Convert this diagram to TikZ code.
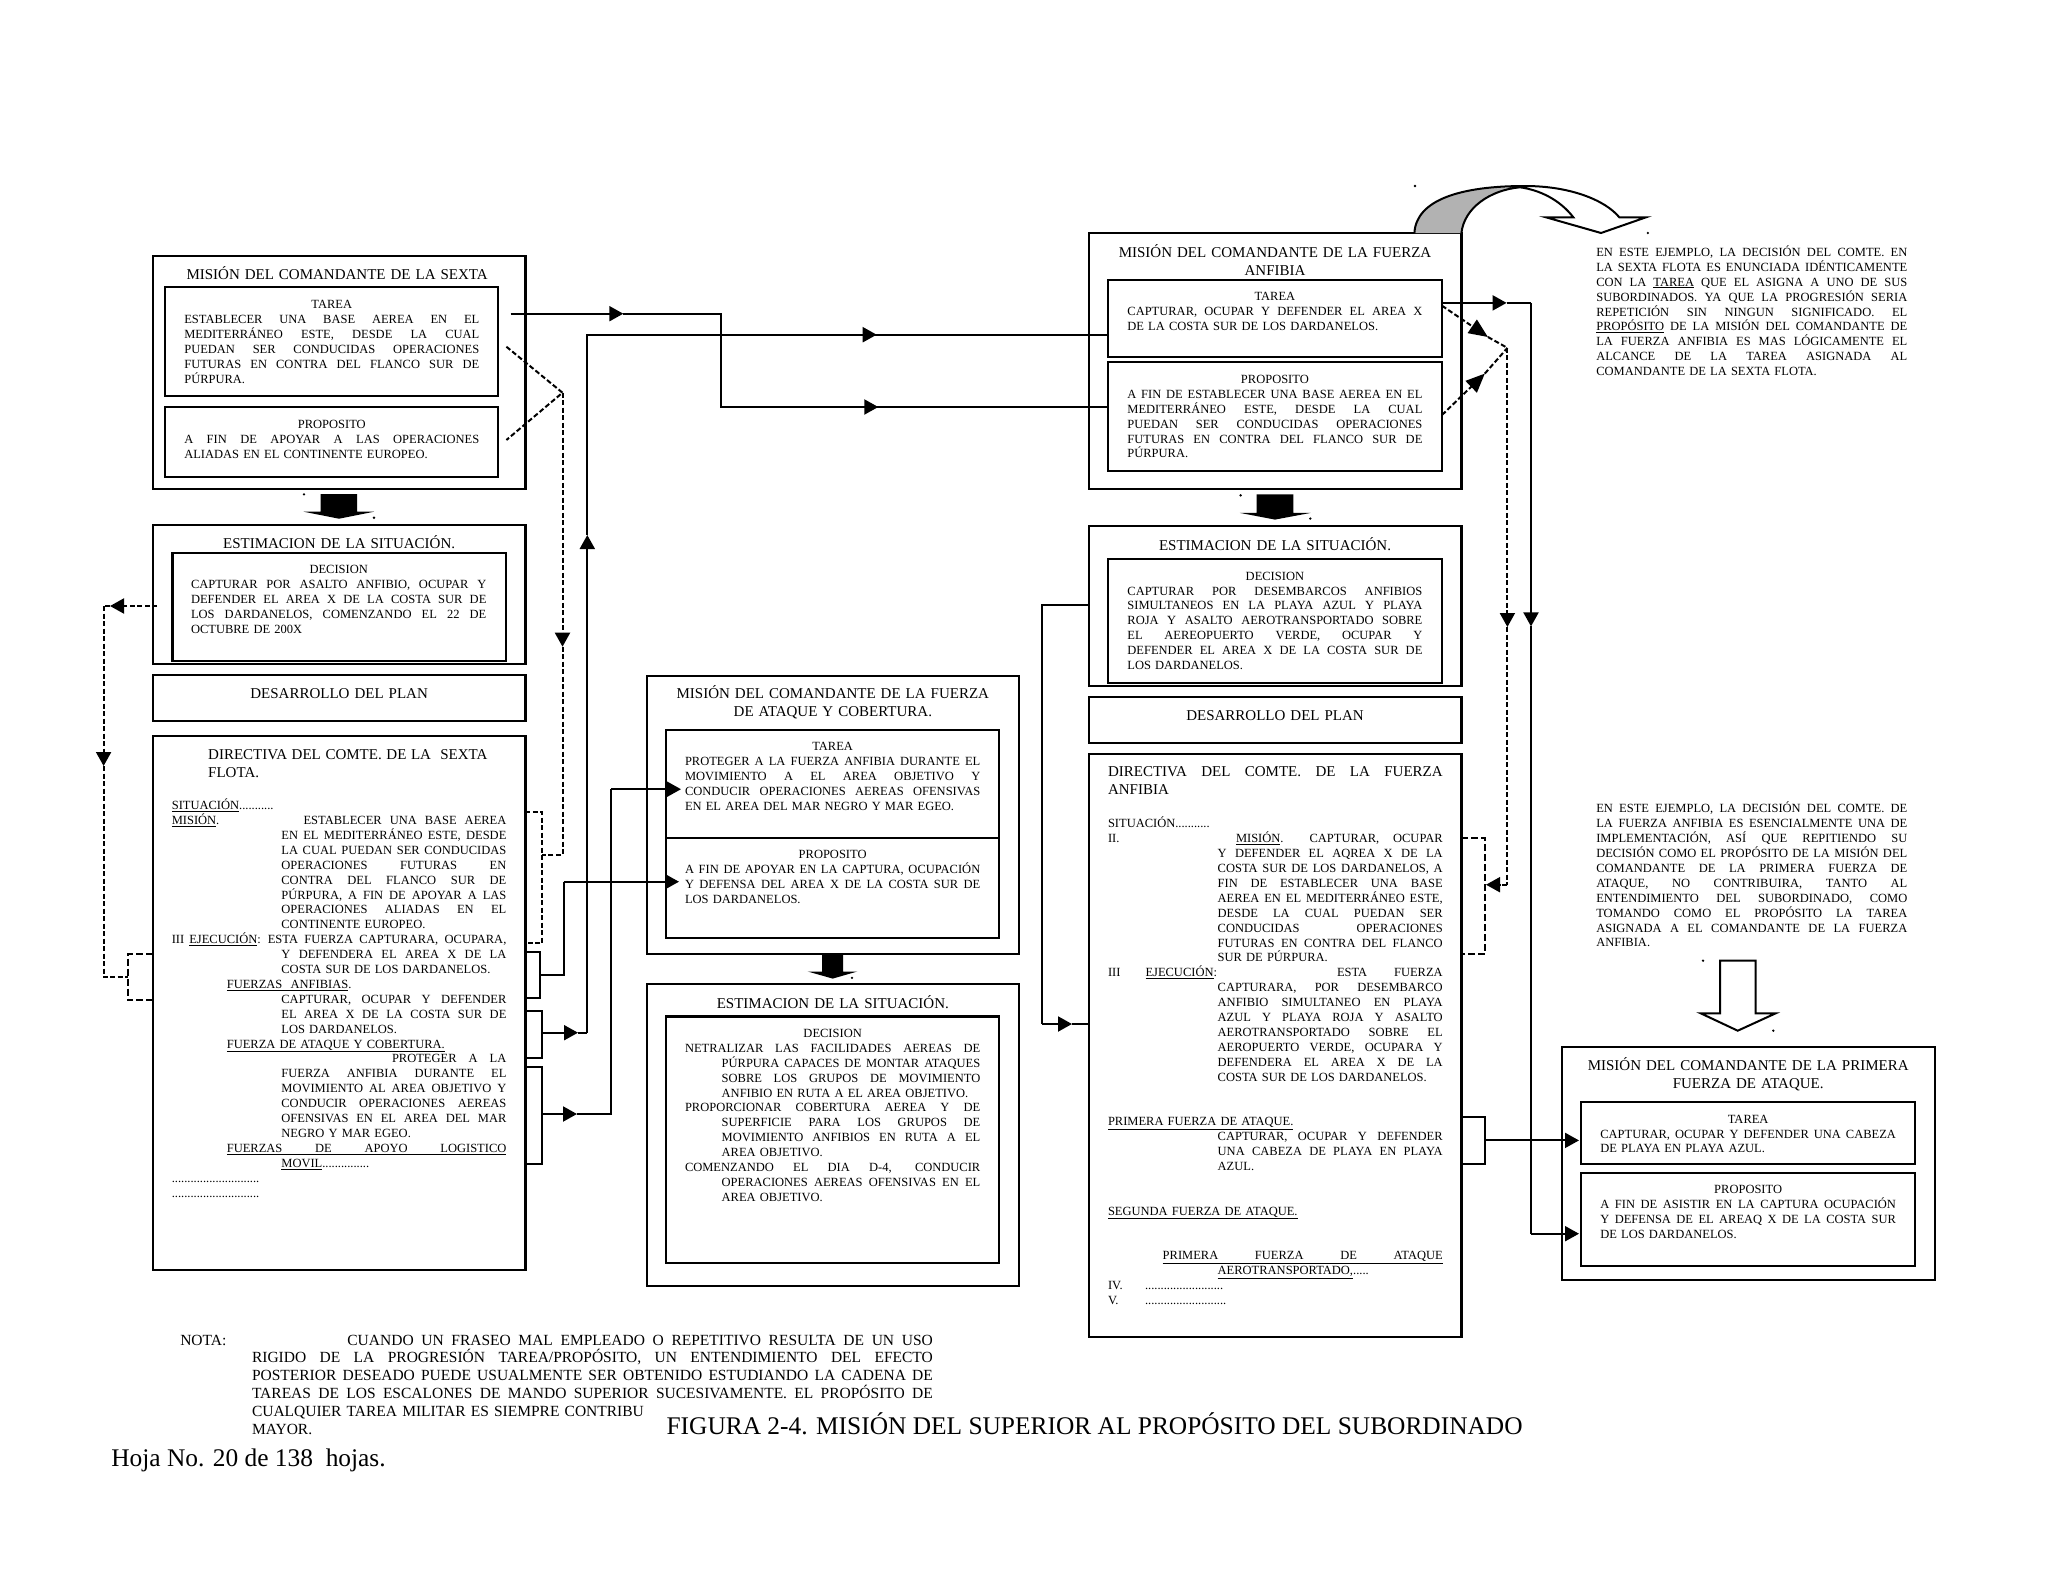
\documentclass[tikz,border=0pt]{standalone}
\usepackage{fontspec}
\setmainfont{Liberation Serif}
\usetikzlibrary{arrows.meta}
\newdimen\strh \strh=12pt
\newcommand\bodyf{\fontsize{12.5}{14.9}\selectfont\strh=12pt\lineskiplimit=-100pt\relax}
\newcommand\titlef{\fontsize{15}{18}\selectfont\strh=14.5pt\lineskiplimit=-100pt\relax}
\newcommand\notaf{\fontsize{15.5}{17.8}\selectfont\strh=12pt\lineskiplimit=-100pt\relax}
\newcommand\strutx{\rule{0pt}{\strh}}
\newcommand\jset{\spaceskip=.25em plus 1fil minus .08em\relax}
\newcommand\jline[2][0pt]{\noindent\hbox to\hsize{\hskip#1\relax\strutx\jset #2}\par}
\newcommand\pline[2][0pt]{\noindent\hbox to\hsize{\hskip#1\relax\strutx #2\hfil}\par}
\newcommand\mline[1]{\noindent\hbox to\hsize{\strutx\hfil #1\hfil}\par}
\newcommand\jlab[3]{\noindent\hbox to\hsize{\rlap{#2}\hskip#1\relax\strutx\jset #3}\par}
\newcommand\plab[3]{\noindent\hbox to\hsize{\rlap{#2}\hskip#1\relax\strutx #3\hfil}\par}
\newcommand\uj[2]{\underline{\hbox to#1{\jset #2}}}
\newcommand\bx[5]{\node[boxs,minimum width={(#4-#2)*1pt},minimum height={(#5-#3)*1pt}] (#1) at (#2,#3) {};}
\newcommand\dotm[1]{\fill #1 circle (1.3pt);}
\tikzset{
  boxs/.style={draw=black,line width=2.2pt,inner sep=0pt,outer sep=0pt,anchor=north west},
  txt/.style={anchor=north west,inner sep=0pt,outer sep=0pt,yshift=7.9pt,font=\bodyf},
  ttl/.style={anchor=north west,inner sep=0pt,outer sep=0pt,yshift=9.4pt,font=\titlef},
  conn/.style={draw=black,line width=2pt,line join=miter},
  dsh/.style={draw=black,line width=2pt,dash pattern=on 5pt off 2.5pt},
  dshb/.style={draw=black,line width=2pt,dash pattern=on 7pt off 3pt},
  tipT/.style={-{Triangle[length=14pt,width=15pt]}},
  tipD/.style={-{Triangle[length=19pt,width=16pt]}},
  block/.style={fill=black,draw=none},
  hollow/.style={draw=black,line width=2pt,fill=white,line join=miter}
}
\begin{document}
\begin{tikzpicture}[x=1pt,y=-1pt]
\useasboundingbox (0,0) rectangle (2048,1582);
% ---------- LEFT COLUMN ----------
\bx{mA}{152.9}{256}{525.4}{489}
\bx{mAt}{165}{287}{498}{396}
\bx{mAp}{165}{407.3}{498}{477.3}
\bx{eA}{152.9}{524.7}{525.4}{664}
\bx{eAd}{172.5}{553}{505.7}{661.3}
\bx{dA}{152.9}{675}{525.4}{721}
\bx{diA}{152.9}{735.8}{525.4}{1270.3}
\node[ttl,text width=372.5pt] (tA1) at (152.9,274.7) {\mline{\hskip-4pt MISIÓN DEL COMANDANTE DE LA SEXTA}};
\node[txt,text width=295pt] (tA2) at (184.3,304.7) {\mline{TAREA}
\jline{ESTABLECER UNA BASE AEREA EN EL}
\jline{MEDITERRÁNEO ESTE, DESDE LA CUAL}
\jline{PUEDAN SER CONDUCIDAS OPERACIONES}
\jline{FUTURAS EN CONTRA DEL FLANCO SUR DE}
\pline{PÚRPURA.}};
\node[txt,text width=295pt] (tA3) at (184.3,424.7) {\mline{PROPOSITO}
\jline{A FIN DE APOYAR A LAS OPERACIONES}
\pline{ALIADAS EN EL CONTINENTE EUROPEO.}};
\node[ttl,text width=372.5pt] (tA4) at (152.9,543.3) {\mline{ESTIMACION DE LA SITUACIÓN.}};
\node[txt,text width=295.4pt] (tA5) at (191,569.7) {\mline{DECISION}
\jline{CAPTURAR POR ASALTO ANFIBIO, OCUPAR Y}
\jline{DEFENDER EL AREA X DE LA COSTA SUR DE}
\jline{LOS DARDANELOS, COMENZANDO EL 22 DE}
\pline{OCTUBRE DE 200X}};
\node[ttl,text width=372.5pt] (tA6) at (152.9,693.8) {\mline{DESARROLLO DEL PLAN}};
\node[ttl,text width=279.3pt] (tA7) at (208.2,754) {\jline{DIRECTIVA DEL COMTE. DE LA\ \ SEXTA}
\pline{FLOTA.}};
\node[txt,text width=334.6pt] (tA8) at (171.8,805.5) {\pline{\underline{SITUACIÓN}...........}
\jlab{131.8pt}{\underline{MISIÓN}.}{ESTABLECER UNA BASE AEREA}
\jline[109.6pt]{EN EL MEDITERRÁNEO ESTE, DESDE}
\jline[109.6pt]{LA CUAL PUEDAN SER CONDUCIDAS}
\jline[109.6pt]{OPERACIONES FUTURAS EN}
\jline[109.6pt]{CONTRA DEL FLANCO SUR DE}
\jline[109.6pt]{PÚRPURA, A FIN DE APOYAR A LAS}
\jline[109.6pt]{OPERACIONES ALIADAS EN EL}
\pline[109.6pt]{CONTINENTE EUROPEO.}
\jlab{96pt}{III\hskip5pt\underline{EJECUCIÓN}:}{ESTA FUERZA CAPTURARA, OCUPARA,}
\jline[109.6pt]{Y DEFENDERA EL AREA X DE LA}
\pline[109.6pt]{COSTA SUR DE LOS DARDANELOS.}
\pline[55pt]{\underline{FUERZAS\ \ ANFIBIAS}.}
\jline[109.6pt]{CAPTURAR, OCUPAR Y DEFENDER}
\jline[109.6pt]{EL AREA X DE LA COSTA SUR DE}
\pline[109.6pt]{LOS DARDANELOS.}
\pline[55pt]{\underline{FUERZA DE ATAQUE Y COBERTURA.}}
\jline[220.2pt]{PROTEGER A LA}
\jline[109.6pt]{FUERZA ANFIBIA DURANTE EL}
\jline[109.6pt]{MOVIMIENTO AL AREA OBJETIVO Y}
\jline[109.6pt]{CONDUCIR OPERACIONES AEREAS}
\jline[109.6pt]{OFENSIVAS EN EL AREA DEL MAR}
\pline[109.6pt]{NEGRO Y MAR EGEO.}
\pline[55pt]{\uj{279.6pt}{FUERZAS DE APOYO LOGISTICO}}
\pline[109.6pt]{\underline{MOVIL}...............}
\pline{............................}
\pline{............................}};
% block arrow left
\fill[block] (320.7,494)--(357,494)--(357,511.7)--(374,511.7)--(339,518.7)--(303.6,511.7)--(320.7,511.7)--cycle;
\dotm{(304,494.3)}\dotm{(374,517.7)}
% ---------- MIDDLE COLUMN ----------
\bx{mC}{646.7}{675.6}{1019}{953.8}
\bx{mCt}{666}{729.9}{999.3}{838}
\bx{mCp}{666}{838}{999.3}{938}
\bx{eC}{646.7}{984}{1019}{1286.3}
\bx{eCd}{666}{1016.5}{999.3}{1263}
\node[ttl,text width=372.3pt] (tC1) at (646.7,693.7) {\mline{MISIÓN DEL COMANDANTE DE LA FUERZA}
\mline{DE ATAQUE Y COBERTURA.}};
\node[txt,text width=295.3pt] (tC2) at (685,746.7) {\mline{TAREA}
\jline{PROTEGER A LA FUERZA ANFIBIA DURANTE EL}
\jline{MOVIMIENTO A EL AREA OBJETIVO Y}
\jline{CONDUCIR OPERACIONES AEREAS OFENSIVAS}
\pline{EN EL AREA DEL MAR NEGRO Y MAR EGEO.}};
\node[txt,text width=295.3pt] (tC3) at (685,854.4) {\mline{PROPOSITO}
\jline{A FIN DE APOYAR EN LA CAPTURA, OCUPACIÓN}
\jline{Y DEFENSA DEL AREA X DE LA COSTA SUR DE}
\pline{LOS DARDANELOS.}};
\node[ttl,text width=372.3pt] (tC4) at (646.7,1003) {\mline{ESTIMACION DE LA SITUACIÓN.}};
\node[txt,text width=295.3pt] (tC5) at (685,1033.3) {\mline{DECISION}
\jline{NETRALIZAR LAS FACILIDADES AEREAS DE}
\jline[36.7pt]{PÚRPURA CAPACES DE MONTAR ATAQUES}
\jline[36.7pt]{SOBRE LOS GRUPOS DE MOVIMIENTO}
\pline[36.7pt]{ANFIBIO EN RUTA A EL AREA OBJETIVO.}
\jline{PROPORCIONAR COBERTURA AEREA Y DE}
\jline[36.7pt]{SUPERFICIE PARA LOS GRUPOS DE}
\jline[36.7pt]{MOVIMIENTO ANFIBIOS EN RUTA A EL}
\pline[36.7pt]{AREA OBJETIVO.}
\jline{COMENZANDO EL DIA D-4, CONDUCIR}
\jline[36.7pt]{OPERACIONES AEREAS OFENSIVAS EN EL}
\pline[36.7pt]{AREA OBJETIVO.}};
\fill[block] (822,954.6)--(843,954.6)--(843,971.5)--(857.3,971.5)--(832.7,978.6)--(807.7,971.5)--(822,971.5)--cycle;
\dotm{(852,977.8)}
% ---------- RIGHT COLUMN ----------
\bx{mB}{1088.7}{233.2}{1461.4}{488.6}
\bx{mBt}{1108.2}{279.6}{1442}{356.8}
\bx{mBp}{1108.2}{362}{1442}{471}
\bx{eB}{1088.7}{526}{1461.4}{686}
\bx{eBd}{1108.2}{558.6}{1442}{683.2}
\bx{dB}{1088.7}{696.8}{1461.4}{743.3}
\bx{diB}{1088.7}{753.9}{1461.4}{1336.7}
\node[ttl,text width=372.7pt] (tB1) at (1088.7,252) {\mline{MISIÓN DEL COMANDANTE DE LA FUERZA}
\mline{ANFIBIA}};
\node[txt,text width=295pt] (tB2) at (1127.4,296.8) {\mline{TAREA}
\jline{CAPTURAR, OCUPAR Y DEFENDER EL AREA X}
\pline{DE LA COSTA SUR DE LOS DARDANELOS.}};
\node[txt,text width=295pt] (tB3) at (1127.4,379.3) {\mline{PROPOSITO}
\jline{A FIN DE ESTABLECER UNA BASE AEREA EN EL}
\jline{MEDITERRÁNEO ESTE, DESDE LA CUAL}
\jline{PUEDAN SER CONDUCIDAS OPERACIONES}
\jline{FUTURAS EN CONTRA DEL FLANCO SUR DE}
\pline{PÚRPURA.}};
\node[ttl,text width=372.7pt] (tB4) at (1088.7,545.4) {\mline{ESTIMACION DE LA SITUACIÓN.}};
\node[txt,text width=295pt] (tB5) at (1127.4,576) {\mline{DECISION}
\jline{CAPTURAR POR DESEMBARCOS ANFIBIOS}
\jline{SIMULTANEOS EN LA PLAYA AZUL Y PLAYA}
\jline{ROJA Y ASALTO AEROTRANSPORTADO SOBRE}
\jline{EL AEREOPUERTO VERDE, OCUPAR Y}
\jline{DEFENDER EL AREA X DE LA COSTA SUR DE}
\pline{LOS DARDANELOS.}};
\node[ttl,text width=372.7pt] (tB6) at (1088.7,715.7) {\mline{DESARROLLO DEL PLAN}};
\node[ttl,text width=334.7pt] (tB7) at (1108,771.8) {\jline{DIRECTIVA DEL COMTE. DE LA FUERZA}
\pline{ANFIBIA}};
\node[txt,text width=334.7pt] (tB8) at (1108,823.7) {\pline{SITUACIÓN...........}
\jlab{128pt}{II.}{\underline{MISIÓN}.\hskip26pt CAPTURAR, OCUPAR}
\jline[109.7pt]{Y DEFENDER EL AQREA X DE LA}
\jline[109.7pt]{COSTA SUR DE LOS DARDANELOS, A}
\jline[109.7pt]{FIN DE ESTABLECER UNA BASE}
\jline[109.7pt]{AEREA EN EL MEDITERRÁNEO ESTE,}
\jline[109.7pt]{DESDE LA CUAL PUEDAN SER}
\jline[109.7pt]{CONDUCIDAS OPERACIONES}
\jline[109.7pt]{FUTURAS EN CONTRA DEL FLANCO}
\pline[109.7pt]{SUR DE PÚRPURA.}
\jlab{229pt}{III\hskip25pt\underline{EJECUCIÓN}:}{ESTA FUERZA}
\jline[109.7pt]{CAPTURARA, POR DESEMBARCO}
\jline[109.7pt]{ANFIBIO SIMULTANEO EN PLAYA}
\jline[109.7pt]{AZUL Y PLAYA ROJA Y ASALTO}
\jline[109.7pt]{AEROTRANSPORTADO SOBRE EL}
\jline[109.7pt]{AEROPUERTO VERDE, OCUPARA Y}
\jline[109.7pt]{DEFENDERA EL AREA X DE LA}
\pline[109.7pt]{COSTA SUR DE LOS DARDANELOS.}
\pline{}
\pline{}
\pline{\underline{PRIMERA FUERZA DE ATAQUE.}}
\jline[109.7pt]{CAPTURAR, OCUPAR Y DEFENDER}
\jline[109.7pt]{UNA CABEZA DE PLAYA EN PLAYA}
\pline[109.7pt]{AZUL.}
\pline{}
\pline{}
\pline{\underline{SEGUNDA FUERZA DE ATAQUE.}}
\pline{}
\pline{}
\pline[54.7pt]{\uj{280pt}{PRIMERA FUERZA DE ATAQUE}}
\pline[109.7pt]{\underline{AEROTRANSPORTADO,}.....}
\plab{37pt}{IV.}{.........................}
\plab{37pt}{V.}{..........................}};
\fill[block] (1256.7,494.3)--(1293.4,494.3)--(1293.4,512.9)--(1310.7,512.9)--(1275,519.6)--(1239.9,512.9)--(1256.7,512.9)--cycle;
\dotm{(1240.6,495.4)}\dotm{(1310.3,518.6)}
% ---------- FAR RIGHT ----------
\node[txt,text width=311pt] (tN1) at (1596.3,252.3) {\jline{EN ESTE EJEMPLO, LA DECISIÓN DEL COMTE. EN}
\jline{LA SEXTA FLOTA ES ENUNCIADA IDÉNTICAMENTE}
\jline{CON LA \underline{TAREA} QUE EL ASIGNA A UNO DE SUS}
\jline{SUBORDINADOS. YA QUE LA PROGRESIÓN SERIA}
\jline{REPETICIÓN SIN NINGUN SIGNIFICADO. EL}
\jline{\underline{PROPÓSITO} DE LA MISIÓN DEL COMANDANTE DE}
\jline{LA FUERZA ANFIBIA ES MAS LÓGICAMENTE EL}
\jline{ALCANCE DE LA TAREA ASIGNADA AL}
\pline{COMANDANTE DE LA SEXTA FLOTA.}};
\node[txt,text width=311pt] (tN2) at (1596.3,808.7) {\jline{EN ESTE EJEMPLO, LA DECISIÓN DEL COMTE. DE}
\jline{LA FUERZA ANFIBIA ES ESENCIALMENTE UNA DE}
\jline{IMPLEMENTACIÓN, ASÍ QUE REPITIENDO SU}
\jline{DECISIÓN COMO EL PROPÓSITO DE LA MISIÓN DEL}
\jline{COMANDANTE DE LA PRIMERA FUERZA DE}
\jline{ATAQUE, NO CONTRIBUIRA, TANTO AL}
\jline{ENTENDIMIENTO DEL SUBORDINADO, COMO}
\jline{TOMANDO COMO EL PROPÓSITO LA TAREA}
\jline{ASIGNADA A EL COMANDANTE DE LA FUERZA}
\pline{ANFIBIA.}};
\draw[hollow] (1720,960.7)--(1755.7,960.7)--(1755.7,1013.3)--(1775.7,1013.3)--(1737.7,1030.7)--(1700.7,1013.3)--(1720,1013.3)--cycle;
\dotm{(1703,960.7)}\dotm{(1773.3,1030.7)}
\bx{mD}{1561.7}{1047.3}{1934.7}{1280}
\bx{mDt}{1581.3}{1101.7}{1915}{1163.7}
\bx{mDp}{1581.3}{1172.7}{1915}{1265.7}
\node[ttl,text width=373pt] (tD1) at (1561.7,1065.7) {\mline{MISIÓN DEL COMANDANTE DE LA PRIMERA}
\mline{FUERZA DE ATAQUE.}};
\node[txt,text width=295.7pt] (tD2) at (1600.3,1119) {\mline{TAREA}
\jline{CAPTURAR, OCUPAR Y DEFENDER UNA CABEZA}
\pline{DE PLAYA EN PLAYA AZUL.}};
\node[txt,text width=295.7pt] (tD3) at (1600.3,1189.7) {\mline{PROPOSITO}
\jline{A FIN DE ASISTIR EN LA CAPTURA OCUPACIÓN}
\jline{Y DEFENSA DE EL AREAQ X DE LA COSTA SUR}
\pline{DE LOS DARDANELOS.}};
% curved arrow
\fill[fill=black!30] (1414.4,233.2) .. controls (1416,200) and (1460,186) .. (1520,187.3) .. controls (1490,190) and (1464,208) .. (1461.4,233.2) -- cycle;
\draw[draw=black,line width=2pt,line join=miter] (1414.4,233.2) .. controls (1416,200) and (1460,186) .. (1525,186) .. controls (1570,186) and (1605,200) .. (1619.3,217.3) -- (1646,217.3) -- (1601,233) -- (1546,217.3) -- (1573.3,217.3) .. controls (1560,200) and (1540,190) .. (1520,187.3) .. controls (1490,190) and (1464,208) .. (1461.4,233.2);
\dotm{(1415,186)}\dotm{(1647.8,233)}
% ---------- BOTTOM TEXTS ----------
\node[txt,text width=752.6pt,font=\notaf] (tNota) at (180.3,1341) {\jlab{167.1pt}{NOTA:}{CUANDO UN FRASEO MAL EMPLEADO O REPETITIVO RESULTA DE UN USO}
\jline[71.7pt]{RIGIDO DE LA PROGRESIÓN TAREA/PROPÓSITO, UN ENTENDIMIENTO DEL EFECTO}
\jline[71.7pt]{POSTERIOR DESEADO PUEDE USUALMENTE SER OBTENIDO ESTUDIANDO LA CADENA DE}
\jline[71.7pt]{TAREAS DE LOS ESCALONES DE MANDO SUPERIOR SUCESIVAMENTE. EL PROPÓSITO DE}
\pline[71.7pt]{CUALQUIER TAREA MILITAR ES SIEMPRE CONTRIBU}
\pline[71.7pt]{MAYOR.}};
\node[anchor=west,inner sep=0pt,outer sep=0pt,font=\fontsize{25.4}{28}\selectfont] (tFig) at (666.6,1423.3) {FIGURA 2-4. MISIÓN DEL SUPERIOR AL PROPÓSITO DEL SUBORDINADO};
\node[anchor=west,inner sep=0pt,outer sep=0pt,font=\fontsize{25.4}{28}\selectfont] (tHoja) at (111.3,1460.7) {Hoja No. 20 de 138\ \ hojas.};
% ---------- CONNECTORS ----------
\coordinate (c1s) at (510.7,313.7);
\coordinate (c1a) at (623.3,313.7);
\coordinate (c1b) at (721,313.7);
\coordinate (c1c) at (721,407);
\coordinate (c1d) at (878.3,407);
\draw[conn,tipT] (c1s) -- (c1a);
\draw[conn] (c1a) -- (c1b) -- (c1c) -- (c1d);
\draw[conn,tipT] (c1b |- c1d) -- (c1d);
\draw[conn] (c1d) -- (c1d -| mBp.west);
\coordinate (d1a) at (506.4,346.7);
\coordinate (d1j) at (562.5,392.7);
\coordinate (d1b) at (506.4,440);
\coordinate (d1t) at (562.5,646.7);
\coordinate (d1e) at (562.5,855);
\coordinate (d1f) at (542,855);
\coordinate (br1a) at (542,811.7);
\coordinate (br1b) at (542,943.3);
\draw[dsh] (d1a) -- (d1j) -- (d1b);
\draw[dsh,tipT] (d1j) -- (d1t);
\draw[dsh] (d1t) -- (d1e) -- (d1f);
\draw[dsh] (br1a -| diA.east) -- (br1a) -- (br1b) -- (br1b -| diA.east);
\coordinate (d2a) at (157,606);
\coordinate (d2t) at (110,606);
\coordinate (d2c) at (103.6,606);
\coordinate (d2d) at (103.6,766);
\coordinate (d2e) at (103.6,977);
\coordinate (d2f) at (127.9,977);
\coordinate (br2a) at (127.9,953.6);
\coordinate (br2b) at (127.9,1000.3);
\draw[dsh,tipT] (d2a) -- (d2t);
\draw[dsh] (d2t) -- (d2c);
\draw[dsh,tipT] (d2c) -- (d2d);
\draw[dsh] (d2d) -- (d2e) -- (d2f);
\draw[dshb] (br2a -| diA.west) -- (br2a) -- (br2b) -- (br2b -| diA.west);
\coordinate (b1a) at (540,951.6);
\coordinate (b1b) at (540,998);
\coordinate (b1m) at (540,974.6);
\coordinate (b1n) at (563.6,974.6);
\coordinate (b1o) at (563.6,881.7);
\coordinate (b1t) at (679,881.7);
\draw[conn] (b1a -| diA.east) -- (b1a) -- (b1b) -- (b1b -| diA.east);
\draw[conn] (b1m) -- (b1n) -- (b1o);
\draw[conn,tipT] (b1o) -- (b1t);
\coordinate (b2a) at (542,1011.4);
\coordinate (b2b) at (542,1057.6);
\coordinate (b2m) at (542,1032.7);
\coordinate (b2t) at (578,1032.7);
\coordinate (b2c) at (587.3,1032.7);
\coordinate (b2u) at (587.3,535);
\coordinate (b2d) at (587.3,334.7);
\coordinate (b2v) at (876.7,334.7);
\draw[conn] (b2a -| diA.east) -- (b2a) -- (b2b) -- (b2b -| diA.east);
\draw[conn,tipT] (b2m) -- (b2t);
\draw[conn] (b2t) -- (b2c);
\draw[conn,tipT] (b2c) -- (b2u);
\draw[conn] (b2u) -- (b2d) -- (b2v);
\draw[conn,tipT] (b2d) -- (b2v);
\draw[conn] (b2v) -- (b2v -| mBt.west);
\coordinate (b3a) at (542,1066.7);
\coordinate (b3b) at (542,1163.6);
\coordinate (b3m) at (542,1114);
\coordinate (b3t) at (577,1114);
\coordinate (b3c) at (611.4,1114);
\coordinate (b3d) at (611.4,789.2);
\coordinate (b3e) at (681,789.2);
\draw[conn] (b3a -| diA.east) -- (b3a) -- (b3b) -- (b3b -| diA.east);
\draw[conn,tipT] (b3m) -- (b3t);
\draw[conn] (b3t) -- (b3c) -- (b3d);
\draw[conn,tipT] (b3d) -- (b3e);
\coordinate (e1a) at (1042.3,605);
\coordinate (e1b) at (1042.3,1024);
\coordinate (e1t) at (1072,1024);
\draw[conn] (e1a -| eB.west) -- (e1a) -- (e1b);
\draw[conn,tipT] (e1b) -- (e1t);
\draw[conn] (e1t) -- (e1t -| diB.west);
\coordinate (f1a) at (1442,302.9);
\coordinate (f1t) at (1506.6,302.9);
\coordinate (f1c) at (1531,302.9);
\coordinate (f1d) at (1531,626.4);
\coordinate (f1e) at (1531,1233.7);
\coordinate (f1f) at (1579,1233.7);
\draw[conn,tipT] (f1a) -- (f1t);
\draw[conn] (f1t) -- (f1c);
\draw[conn,tipT] (f1c) -- (f1d);
\draw[conn] (f1d) -- (f1e);
\draw[conn,tipT] (f1e) -- (f1f);
\coordinate (g1a) at (1442,305.7);
\coordinate (g1t) at (1487.9,337);
\coordinate (g1j) at (1507.4,347.9);
\coordinate (g2a) at (1442,415);
\coordinate (g2t) at (1484.8,373.6);
\coordinate (g2d) at (1507.4,627);
\coordinate (g2e) at (1507.4,884.7);
\coordinate (g2f) at (1486,884.7);
\coordinate (br3a) at (1485,837.6);
\coordinate (br3b) at (1485,953.9);
\draw[dsh,tipD] (g1a) -- (g1t);
\draw[dsh] (g1t) -- (g1j);
\draw[dsh,tipD] (g2a) -- (g2t);
\draw[dsh] (g2t) -- (g1j);
\draw[dsh,tipT] (g1j) -- (g2d);
\draw[dsh] (g2d) -- (g2e);
\draw[dsh,tipT] (g2e) -- (g2f);
\draw[dshb] (br3a -| diB.east) -- (br3a) -- (br3b) -- (br3b -| diB.east);
\coordinate (h1a) at (1485,1116.7);
\coordinate (h1b) at (1485,1163.7);
\coordinate (h1m) at (1485,1140.4);
\coordinate (h1t) at (1579,1140.4);
\draw[conn] (h1a -| diB.east) -- (h1a) -- (h1b) -- (h1b -| diB.east);
\draw[conn,tipT] (h1m) -- (h1t);
\end{tikzpicture}
\end{document}
